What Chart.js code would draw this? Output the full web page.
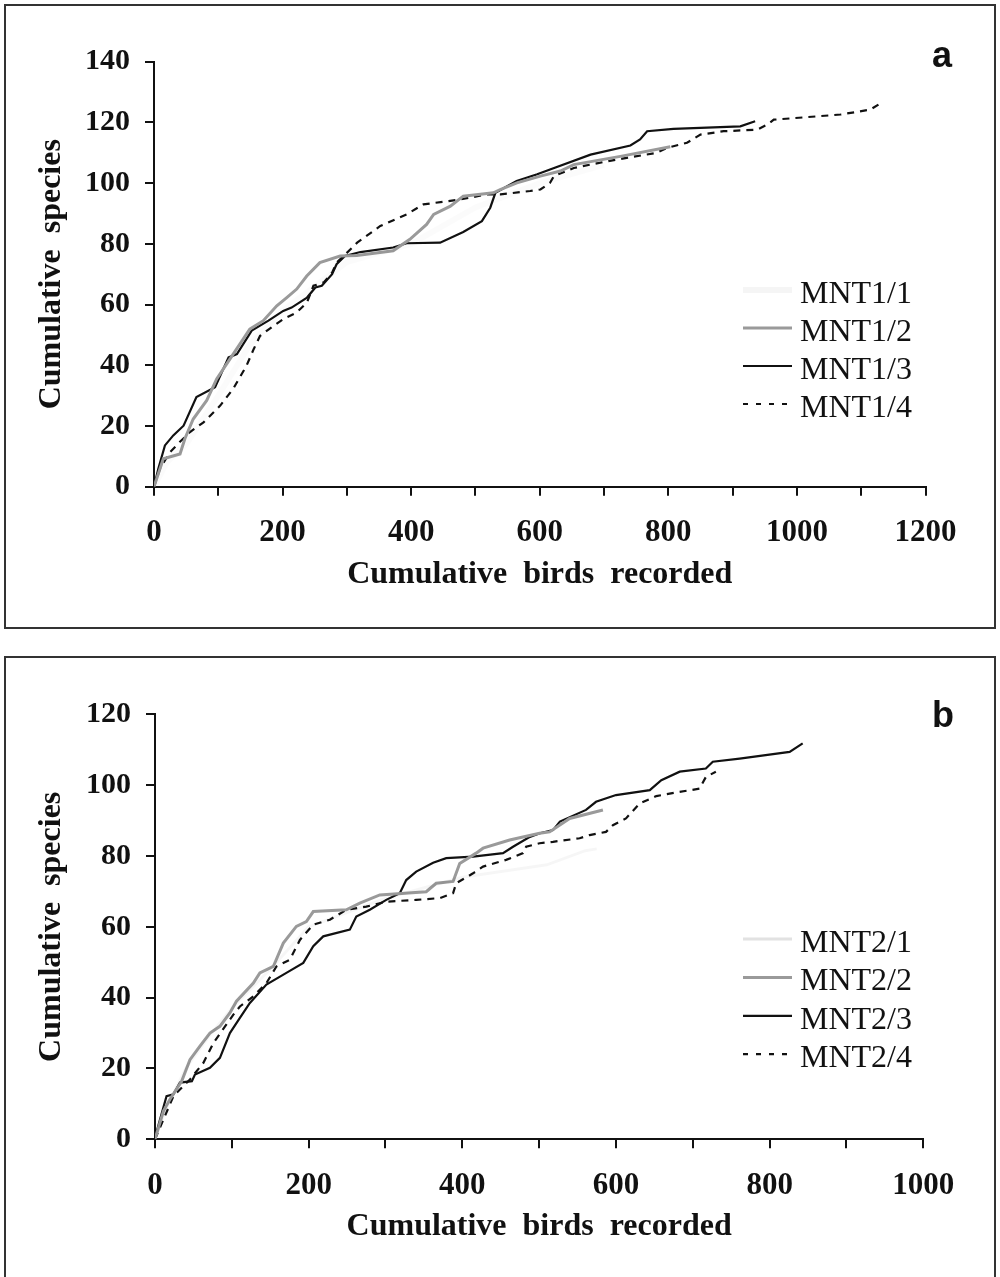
<!DOCTYPE html>
<html lang="en">
<head>
<meta charset="UTF-8">
<title>Cumulative species vs cumulative birds recorded</title>
<style>
  html, body { margin: 0; padding: 0; background: #fff; overflow: hidden; }
  .panel { position: absolute; border: 2px solid #333; box-sizing: border-box; }
  .holder { position: absolute; left: 0; width: 1000px; }
</style>
</head>
<body>
<div class="panel" style="left:4px; top:4px; width:992px; height:625px;"></div>
<div class="panel" style="left:4px; top:656px; width:992px; height:660px;"></div>
<div class="holder" style="top:0; height:640px;"><canvas id="chartA"></canvas></div>
<div class="holder" style="top:640px; height:637px;"><canvas id="chartB"></canvas></div>

<script src="https://cdn.jsdelivr.net/npm/chart.js"></script>
<script>
// ---- panel a : [cumulative birds, cumulative species] ----
const labelsA = ["MNT1/1", "MNT1/2", "MNT1/3", "MNT1/4"];
const mnt1_1 = [[0,0],[20,8],[50,14],[100,30],[150,47],[200,58],[300,74],[400,80],[500,92],[600,100],[700,106]];
const mnt1_2 = [[0,0],[14.5,9.2],[40.5,10.8],[48,15.8],[61,22.3],[82,28.4],[97.5,35.5],[118,42],[149,51.9],[170,54.7],[191,59.6],[206.5,62.3],[222,65.1],[237.6,69.4],[258,73.8],[289.5,76],[315.5,76.2],[372,77.7],[398,81.5],[424,86.4],[435,89.7],[461,92.4],[481,95.7],[528,96.8],[538.5,97.9],[564.5,100.1],[601,102.3],[632,104],[653,106.1],[727.5,108.9],[803,112]];
const mnt1_3 = [[0,0],[6.7,5.9],[17,13.6],[30,16.9],[46,20.1],[66,29.5],[95,32.8],[116,42.6],[129,43.7],[152,51.4],[178,54.7],[201,57.9],[214,59],[238,62.3],[251,65.6],[261,66.2],[277,70],[284,73.3],[297,76],[321,77.3],[372,78.8],[393,80.2],[445,80.4],[481,83.9],[510,87.5],[523,91.9],[531,96.8],[564,100.7],[596,102.9],[616,104.5],[679,109.4],[741,112.4],[756,114.4],[767,117.1],[808,117.9],[912,118.7],[935,120.4]];
const mnt1_4 = [[0,0],[9,5.9],[25,11.4],[40,14.7],[56,18],[77,21.2],[103,26.7],[123,32.2],[144,39.9],[155,45.3],[165,49.7],[186,53],[201,55.2],[222,57.4],[238,60.7],[248,66.2],[264,67.3],[277,70.5],[284,73.8],[295,76],[316,80.4],[352,85.9],[393,89.7],[419,93],[476,94.6],[518,96.3],[539,96.3],[585,97.4],[601,97.9],[616,100.1],[622,102.3],[653,105],[705,107.2],[782,110],[798,111.6],[829,113.3],[850,116],[886,117.1],[938,117.6],[954,119.3],[964,120.9],[1068,122.6],[1114,124.2],[1127,125.9]];
const xTicksA = [0, 200, 400, 600, 800, 1000, 1200];
const yTicksA = [0, 20, 40, 60, 80, 100, 120, 140];

// ---- panel b ----
const labelsB = ["MNT2/1", "MNT2/2", "MNT2/3", "MNT2/4"];
const mnt2_1 = [[0,0],[15,9],[40,20],[70,29],[100,37],[150,48],[200,60],[300,68],[400,74],[510,77.5],[560,81.5],[575,82]];
const mnt2_2 = [[0,0],[11,8],[19.5,11.3],[34.7,16.4],[45.5,22.5],[58.5,26.3],[71.5,30],[84.5,31.9],[97.5,35.7],[106,39],[128,44.1],[136.5,47],[154,48.8],[167,55.4],[184,60.1],[197,61.5],[206,64.3],[249,64.8],[266.6,66.7],[292.6,69],[353,69.9],[366,72.3],[388,72.8],[396.6,77.9],[418,80.8],[427,82.2],[461.6,84.5],[500.6,86.4],[513.6,86.8],[539.7,90.6],[583,93]];
const mnt2_3 = [[0,0.5],[15,12.2],[24,12.7],[32.5,16],[48,16.4],[52,18.3],[71.5,20.2],[84.5,23],[97.5,30],[110.5,34.3],[123.5,38.5],[145,43.7],[171,47],[193,49.8],[206,54.5],[219,57.3],[253.6,59.2],[262,62.9],[279.6,64.8],[301,67.6],[318.6,69.5],[327,73.2],[340,75.6],[362,78.1],[379,79.4],[414,79.8],[453,80.8],[466,82.6],[488,85.4],[501,86.4],[518,87.3],[527,89.7],[561,93],[574,95.3],[600,97.2],[644,98.6],[659,101.4],[683,103.8],[717,104.7],[726,106.6],[761,107.5],[826,109.4],[843,111.8]];
const mnt2_4 = [[0,0],[24,12.2],[45.5,16.9],[63,21.6],[76,27.2],[102,35.2],[110.5,37.5],[128,40.4],[145,44.1],[158,48.8],[175.5,50.7],[188.6,56.3],[206,60.6],[227.6,62],[249,64.8],[275,65.7],[301,67.1],[340,67.6],[370.6,68.1],[388,69.5],[392,72.3],[414,75.1],[427,77],[457,78.9],[479,80.8],[483,82.6],[500.6,83.6],[518,84],[552.7,85],[565.7,85.9],[587,86.8],[596,88.7],[613,90.6],[630.7,94.8],[652.5,96.9],[682.7,98.1],[708.7,99],[717,102.3],[730,103.8]];
const xTicksB = [0, 200, 400, 600, 800, 1000];
const yTicksB = [0, 20, 40, 60, 80, 100, 120];

const serif = "'Liberation Serif', 'Times New Roman', serif";
const ink = "#111";

function toXY(arr) {
    return arr.map(p => ({ x: p[0], y: p[1] }));
}

// series styles, in legend order: faint, grey, black, dashed
function makeSets(labels, series, faintColor, faintWidth) {
    return [
        { label: labels[0], data: toXY(series[0]), borderColor: faintColor, borderWidth: faintWidth },
        { label: labels[1], data: toXY(series[1]), borderColor: "#9a9a9a", borderWidth: 3 },
        { label: labels[2], data: toXY(series[2]), borderColor: ink, borderWidth: 2.2 },
        { label: labels[3], data: toXY(series[3]), borderColor: ink, borderWidth: 2.2, borderDash: [7, 6] }
    ];
}

// panel letter + legend drawn inside the plot
const decor = {
    id: "decor",
    afterDraw(chart, args, o) {
        const ctx = chart.ctx;
        ctx.save();
        ctx.fillStyle = ink;
        ctx.font = "bold 36px 'Liberation Sans', Arial, sans-serif";
        ctx.textBaseline = "alphabetic";
        ctx.fillText(o.letter, o.letterX, o.letterY);

        ctx.font = "32px " + serif;
        chart.data.datasets.forEach((ds, i) => {
            const base = o.legendY + i * o.legendGap;
            ctx.save();
            ctx.strokeStyle = i === 0 ? o.faintLegend : ds.borderColor;
            ctx.lineWidth = ds.borderWidth;
            ctx.setLineDash(ds.borderDash ? [5, 8] : []);
            ctx.beginPath();
            ctx.moveTo(743, base - 13);
            ctx.lineTo(792, base - 13);
            ctx.stroke();
            ctx.restore();
            ctx.fillStyle = ink;
            ctx.fillText(ds.label, 800, base);
        });
        ctx.restore();
    }
};

function makeChart(id, sets, xMax, yMax, xLabels, yLabels, pad, axisW, decorOpts) {
    const ctx = document.getElementById(id);
    new Chart(ctx, {
        type: "line",
        data: { datasets: sets },
        options: {
            responsive: true,
            maintainAspectRatio: false,
            animation: false,
            layout: { padding: pad },
            elements: {
                point: { radius: 0 },
                line: { tension: 0, fill: false, borderCapStyle: "butt" }
            },
            plugins: {
                legend: { display: false },
                tooltip: { enabled: false },
                decor: decorOpts
            },
            scales: {
                x: {
                    type: "linear",
                    min: 0,
                    max: xMax,
                    afterFit: (s) => { s.height = 110; },
                    ticks: {
                        stepSize: 100,
                        autoSkip: false,
                        maxRotation: 0,
                        padding: 19,
                        color: ink,
                        font: { family: serif, size: 31, weight: "bold" },
                        callback: (v) => xLabels.includes(v) ? v : ""
                    },
                    grid: { drawOnChartArea: false, drawTicks: true, tickLength: 9, lineWidth: 2, color: ink },
                    border: { display: true, color: ink, width: 2 },
                    title: {
                        display: true,
                        text: "Cumulative  birds  recorded",
                        color: ink,
                        font: { family: serif, size: 32, weight: "bold", lineHeight: 1.2 },
                        padding: { top: 0, bottom: 3 }
                    }
                },
                y: {
                    min: 0,
                    max: yMax,
                    afterFit: (s) => { s.width = axisW; },
                    ticks: {
                        stepSize: 10,
                        padding: 15,
                        color: ink,
                        font: { family: serif, size: 30, weight: "bold" },
                        callback: (v) => yLabels.includes(v) ? v : ""
                    },
                    grid: { drawOnChartArea: false, drawTicks: true, tickLength: 9, lineWidth: 2, color: ink },
                    border: { display: true, color: ink, width: 2 },
                    title: {
                        display: true,
                        text: "Cumulative  species",
                        color: ink,
                        font: { family: serif, size: 32, weight: "bold", lineHeight: 1.2 },
                        padding: { top: 33, bottom: 0 }
                    }
                }
            }
        },
        plugins: [decor]
    });
}

makeChart("chartA",
    makeSets(labelsA, [mnt1_1, mnt1_2, mnt1_3, mnt1_4], "rgba(0,0,0,0.015)", 6),
    1200, 140, xTicksA, yTicksA,
    { left: 0, right: 74.5, top: 61.7, bottom: 43.3 }, 154,
    { letter: "a", letterX: 932, letterY: 67, legendY: 303, legendGap: 38, faintLegend: "rgba(0,0,0,0.04)" });

makeChart("chartB",
    makeSets(labelsB, [mnt2_1, mnt2_2, mnt2_3, mnt2_4], "rgba(0,0,0,0.035)", 3),
    1000, 120, xTicksB, yTicksB,
    { left: 0, right: 76.7, top: 74.3, bottom: 27.7 }, 155,
    { letter: "b", letterX: 932, letterY: 87, legendY: 312, legendGap: 38.4, faintLegend: "#e2e2e2" });
</script>
</body>
</html>
